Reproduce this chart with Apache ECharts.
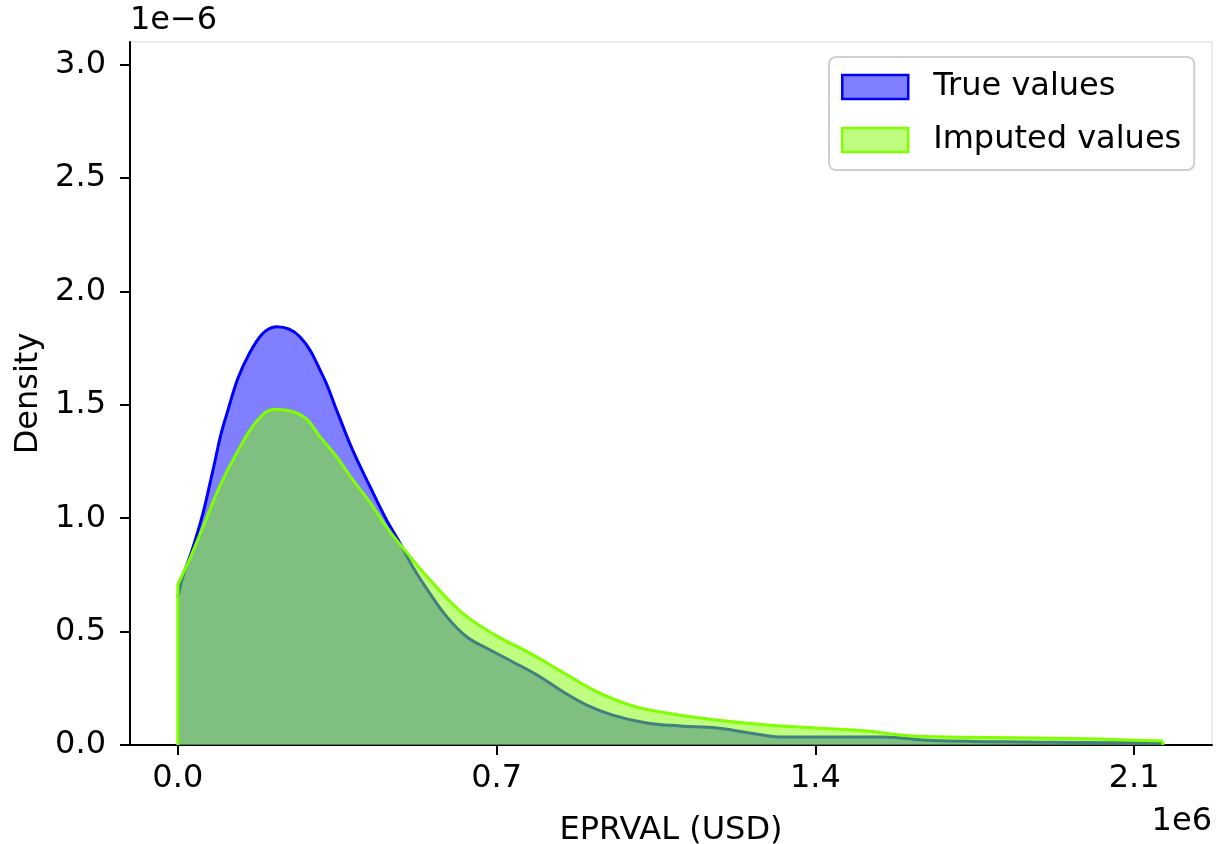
<!DOCTYPE html>
<html>
<head>
<meta charset="utf-8">
<script src="https://cdn.jsdelivr.net/npm/echarts@6/dist/echarts.min.js"></script>
<style>html,body{margin:0;padding:0;background:#fff}#c{width:1217px;height:844px}</style>
</head>
<body>
<div id="c"></div>
<script>
// x in units of 1e6 USD, density in units of 1e-6
const trueX = [0.000,0.011,0.033,0.055,0.077,0.103,0.158,0.217,0.268,0.318,0.350,0.384,0.422,0.459,0.488,0.516,0.553,0.591,0.635,0.685,0.736,0.788,0.846,0.898,0.955,1.030,1.103,1.184,1.256,1.329,1.439,1.548,1.658,1.878,2.163];
const trueY = [0.65,0.74,0.87,1.02,1.21,1.43,1.73,1.844,1.80,1.63,1.47,1.30,1.14,0.99,0.89,0.785,0.67,0.565,0.476,0.42,0.366,0.31,0.235,0.176,0.132,0.097,0.084,0.075,0.053,0.035,0.035,0.035,0.020,0.013,0.009];
const impX = [0.000,0.026,0.055,0.092,0.130,0.174,0.213,0.275,0.312,0.349,0.384,0.422,0.459,0.494,0.553,0.626,0.701,0.773,0.846,0.920,0.993,1.074,1.184,1.294,1.403,1.513,1.586,1.658,1.878,2.025,2.163];
const impY = [0.71,0.82,0.96,1.14,1.29,1.43,1.48,1.45,1.36,1.27,1.17,1.07,0.96,0.87,0.73,0.58,0.48,0.405,0.32,0.235,0.176,0.141,0.11,0.088,0.075,0.062,0.044,0.036,0.031,0.026,0.018];
const xTicks = [0, 0.7, 1.4, 2.1];
const yTicks = [0, 0.5, 1.0, 1.5, 2.0, 2.5, 3.0];
const seriesNames = ['True values', 'Imputed values'];

const FONT = 'DejaVu Sans';
const FS = 32;
const zip = (xs, ys) => xs.map((x, i) => [x, ys[i]]);
const chart = echarts.init(document.getElementById('c'));
chart.setOption({
  animation: false,
  grid: {left: 130, right: 5, top: 42, bottom: 99, outerBoundsMode: 'none', containLabel: false, show: true, borderColor: '#d6d6d6', borderWidth: 1},
  xAxis: {
    type: 'value', min: -0.105, max: 2.271,
    name: 'EPRVAL (USD)', nameLocation: 'middle', nameGap: 70,
    nameTextStyle: {fontFamily: FONT, fontSize: FS, color: '#000'},
    axisLine: {onZero: false, lineStyle: {color: '#000', width: 2}},
    axisTick: {show: true, length: 10, lineStyle: {color: '#000', width: 2}, customValues: xTicks},
    axisLabel: {fontFamily: FONT, fontSize: FS, color: '#000', margin: 18, customValues: xTicks, formatter: v => v.toFixed(1)},
    splitLine: {show: false}
  },
  yAxis: {
    type: 'value', min: 0, max: 3.1,
    name: 'Density', nameLocation: 'middle', nameGap: 85,
    nameTextStyle: {fontFamily: FONT, fontSize: FS, color: '#000'},
    axisLine: {show: true, onZero: false, lineStyle: {color: '#000', width: 2}},
    axisTick: {show: true, length: 10, lineStyle: {color: '#000', width: 2}, customValues: yTicks},
    axisLabel: {fontFamily: FONT, fontSize: FS, color: '#000', margin: 24, customValues: yTicks, formatter: v => v.toFixed(1)},
    splitLine: {show: false}
  },
  legend: {
    left: 829, top: 57, orient: 'vertical', icon: 'rect',
    itemWidth: 66, itemHeight: 24, itemGap: 21,
    padding: [14, 13, 14, 12],
    backgroundColor: 'rgba(255,255,255,0.8)', borderColor: '#d0d0d0', borderWidth: 2, borderRadius: 7,
    textStyle: {fontFamily: FONT, fontSize: FS, color: '#000', padding: [0, 0, 0, 20]},
    data: [
      {name: seriesNames[0], itemStyle: {color: 'rgba(0,0,255,0.5)', borderColor: '#0000ff', borderWidth: 2.5}},
      {name: seriesNames[1], itemStyle: {color: 'rgba(127,255,0,0.5)', borderColor: '#7fff00', borderWidth: 2.5}}
    ]
  },
  graphic: [
    {type: 'text', left: 130, top: 5, style: {text: '1e\u22126', font: FS + 'px "DejaVu Sans"', fill: '#000'}},
    {type: 'text', right: 5, top: 806, style: {text: '1e6', font: FS + 'px "DejaVu Sans"', fill: '#000'}}
  ],
  series: [
    {
      name: seriesNames[0], type: 'line', z: 2, data: zip(trueX, trueY), smooth: 0.4, showSymbol: false,
      lineStyle: {color: '#0000ff', width: 3}, itemStyle: {color: '#0000ff'},
      areaStyle: {color: 'rgba(0,0,255,0.5)', opacity: 1}
    },
    {
      name: seriesNames[1], type: 'line', z: 3, data: zip(impX, impY), smooth: 0.4, showSymbol: false,
      lineStyle: {color: '#7fff00', width: 3}, itemStyle: {color: '#7fff00'},
      areaStyle: {color: 'rgba(127,255,0,0.5)', opacity: 1}
    },
    {
      name: 'edgeL', type: 'line', z: 3, data: [[impX[0], 0], [impX[0], impY[0]]], showSymbol: false, silent: true,
      lineStyle: {color: '#7fff00', width: 3}
    },
    {
      name: 'edgeR', type: 'line', z: 3, data: [[impX[impX.length-1], 0], [impX[impX.length-1], impY[impY.length-1]]], showSymbol: false, silent: true,
      lineStyle: {color: '#7fff00', width: 3}
    }
  ]
});
</script>
</body>
</html>
